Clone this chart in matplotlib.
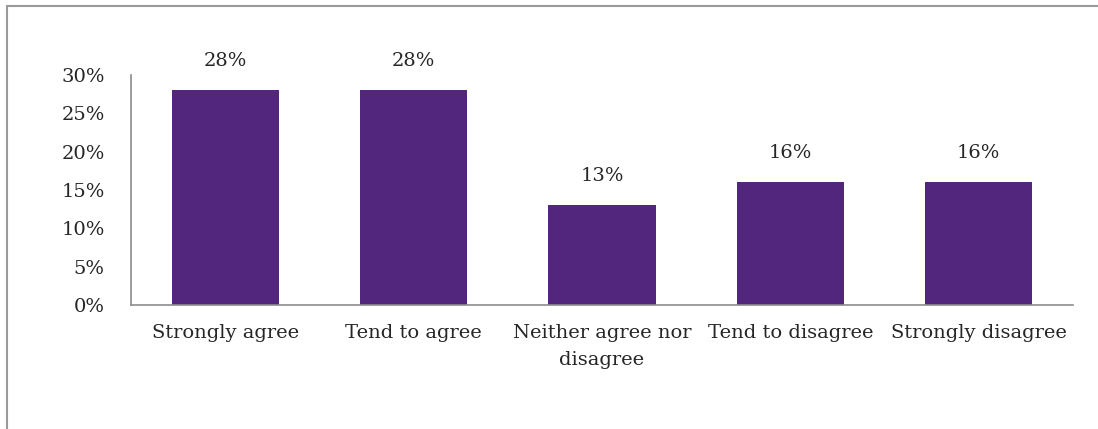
import matplotlib
matplotlib.use("Agg")
import matplotlib.pyplot as plt
from matplotlib.patches import Rectangle
from matplotlib.ticker import PercentFormatter

categories = ["Strongly agree", "Tend to agree", "Neither agree nor\ndisagree",
              "Tend to disagree", "Strongly disagree"]
values = [0.28, 0.28, 0.13, 0.16, 0.16]
value_labels = ["28%", "28%", "13%", "16%", "16%"]
y_ticks = [0, 0.05, 0.10, 0.15, 0.20, 0.25, 0.30]

plt.rcParams["font.family"] = ["DejaVu Serif"]
FS = 14

fig = plt.figure(figsize=(10.98, 4.29), dpi=100)
fig.patch.set_facecolor("white")

# outer frame of the chart area
fig.patches.append(Rectangle((7 / 1098, -0.1), 1.2, 1 - 6 / 429 + 0.1,
                             transform=fig.transFigure, fill=False,
                             edgecolor="#9a9a9a", linewidth=1.5))

ax = fig.add_axes([131 / 1098, 1 - 305 / 429, (1073 - 131) / 1098, (305 - 75) / 429])
x = range(len(categories))
bars = ax.bar(x, values, width=0.57, color="#52267c")

for xi, v, lab in zip(x, values, value_labels):
    ax.annotate(lab, (xi, v), xytext=(0, 14.5), textcoords="offset points",
                ha="center", va="bottom", fontsize=FS, color="#262626")

ax.set_xlim(-0.5, len(categories) - 0.5)
ax.set_ylim(0, 0.30)
ax.set_yticks(y_ticks)
ax.yaxis.set_major_formatter(PercentFormatter(1.0, decimals=0))
ax.set_xticks(list(x))
ax.set_xticklabels(categories, fontsize=FS, color="#262626", linespacing=1.6)
ax.tick_params(axis="y", length=0, pad=19, labelsize=FS, labelcolor="#262626")
ax.tick_params(axis="x", length=0, pad=14)

for s in ["top", "right"]:
    ax.spines[s].set_visible(False)
for s in ["left", "bottom"]:
    ax.spines[s].set_color("#8c8c8c")
    ax.spines[s].set_linewidth(1.2)

fig.savefig("out.png", dpi=100)
